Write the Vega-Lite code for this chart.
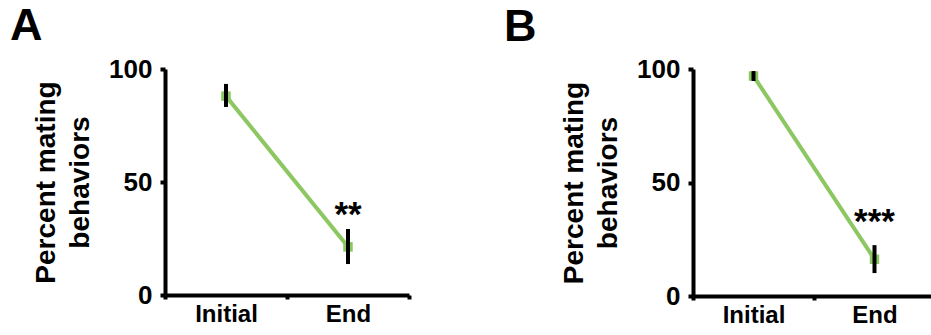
{
  "$schema": "https://vega.github.io/schema/vega-lite/v6.json",
  "padding": {"left": 10, "top": 3, "right": 0, "bottom": 0},
  "background": "white",
  "spacing": 93,
  "config": {
    "view": {"stroke": null},
    "font": "Liberation Sans",
    "title": {"fontSize": 45, "fontWeight": "bold", "anchor": "start", "baseline": "alphabetic", "color": "black", "frame": "group"},
    "axisX": {
      "domainColor": "black", "domainWidth": 4, "tickColor": "black", "tickWidth": 4, "tickSize": 4,
      "tickBand": "extent", "labelFontSize": 24, "labelFontWeight": "bold", "labelColor": "black",
      "labelPadding": 3, "labelAngle": 0, "title": null, "grid": false
    },
    "axisY": {
      "domainColor": "black", "domainWidth": 4, "tickColor": "black", "tickWidth": 4, "tickSize": 5,
      "labelFontSize": 26, "labelFontWeight": "bold", "labelColor": "black", "labelPadding": 8,
      "titleFontSize": 28, "titleFontWeight": "bold", "titleColor": "black", "titleLineHeight": 34,
      "titlePadding": 14, "grid": false
    }
  },
  "hconcat": [
    {
      "title": {"text": "A", "dx": -155, "offset": 4},
      "width": 244,
      "height": 226,
      "data": {"values": [
        {"phase": "Initial", "mean": 88.0, "lo": 83.2, "hi": 93.4, "sig": ""},
        {"phase": "End", "mean": 21.3, "lo": 13.7, "hi": 29.2, "sig": "**"}
      ]},
      "encoding": {
        "x": {"field": "phase", "type": "nominal", "sort": ["Initial", "End"],
              "scale": {"type": "band", "paddingInner": 0, "paddingOuter": 0}}
      },
      "layer": [
        {"mark": {"type": "line", "color": "#8cc762", "strokeWidth": 4},
         "encoding": {"y": {"field": "mean", "type": "quantitative", "scale": {"domain": [0, 100]},
                            "axis": {"title": ["Percent mating", "behaviors"], "values": [0, 50, 100]}}}},
        {"mark": {"type": "point", "shape": "square", "filled": true, "color": "#8cc762", "size": 90, "opacity": 1},
         "encoding": {"y": {"field": "mean", "type": "quantitative"}}},
        {"mark": {"type": "rule", "color": "black", "strokeWidth": 4},
         "encoding": {"y": {"field": "lo", "type": "quantitative"}, "y2": {"field": "hi"}}},
        {"mark": {"type": "text", "fontSize": 35, "fontWeight": "bold", "baseline": "alphabetic", "dy": -3, "color": "black"},
         "encoding": {"y": {"field": "hi", "type": "quantitative"}, "text": {"field": "sig"}}}
      ]
    },
    {
      "title": {"text": "B", "dx": -189, "offset": -19},
      "width": 242,
      "height": 227,
      "data": {"values": [
        {"phase": "Initial", "mean": 96.9, "lo": 94.7, "hi": 99.1, "sig": ""},
        {"phase": "End", "mean": 16.2, "lo": 10.1, "hi": 22.4, "sig": "***"}
      ]},
      "encoding": {
        "x": {"field": "phase", "type": "nominal", "sort": ["Initial", "End"],
              "scale": {"type": "band", "paddingInner": 0, "paddingOuter": 0}}
      },
      "layer": [
        {"mark": {"type": "line", "color": "#8cc762", "strokeWidth": 4},
         "encoding": {"y": {"field": "mean", "type": "quantitative", "scale": {"domain": [0, 100]},
                            "axis": {"title": ["Percent mating", "behaviors"], "values": [0, 50, 100]}}}},
        {"mark": {"type": "point", "shape": "square", "filled": true, "color": "#8cc762", "size": 90, "opacity": 1},
         "encoding": {"y": {"field": "mean", "type": "quantitative"}}},
        {"mark": {"type": "rule", "color": "black", "strokeWidth": 4},
         "encoding": {"y": {"field": "lo", "type": "quantitative"}, "y2": {"field": "hi"}}},
        {"mark": {"type": "text", "fontSize": 35, "fontWeight": "bold", "baseline": "alphabetic", "dy": -12, "color": "black"},
         "encoding": {"y": {"field": "hi", "type": "quantitative"}, "text": {"field": "sig"}}}
      ]
    }
  ]
}
